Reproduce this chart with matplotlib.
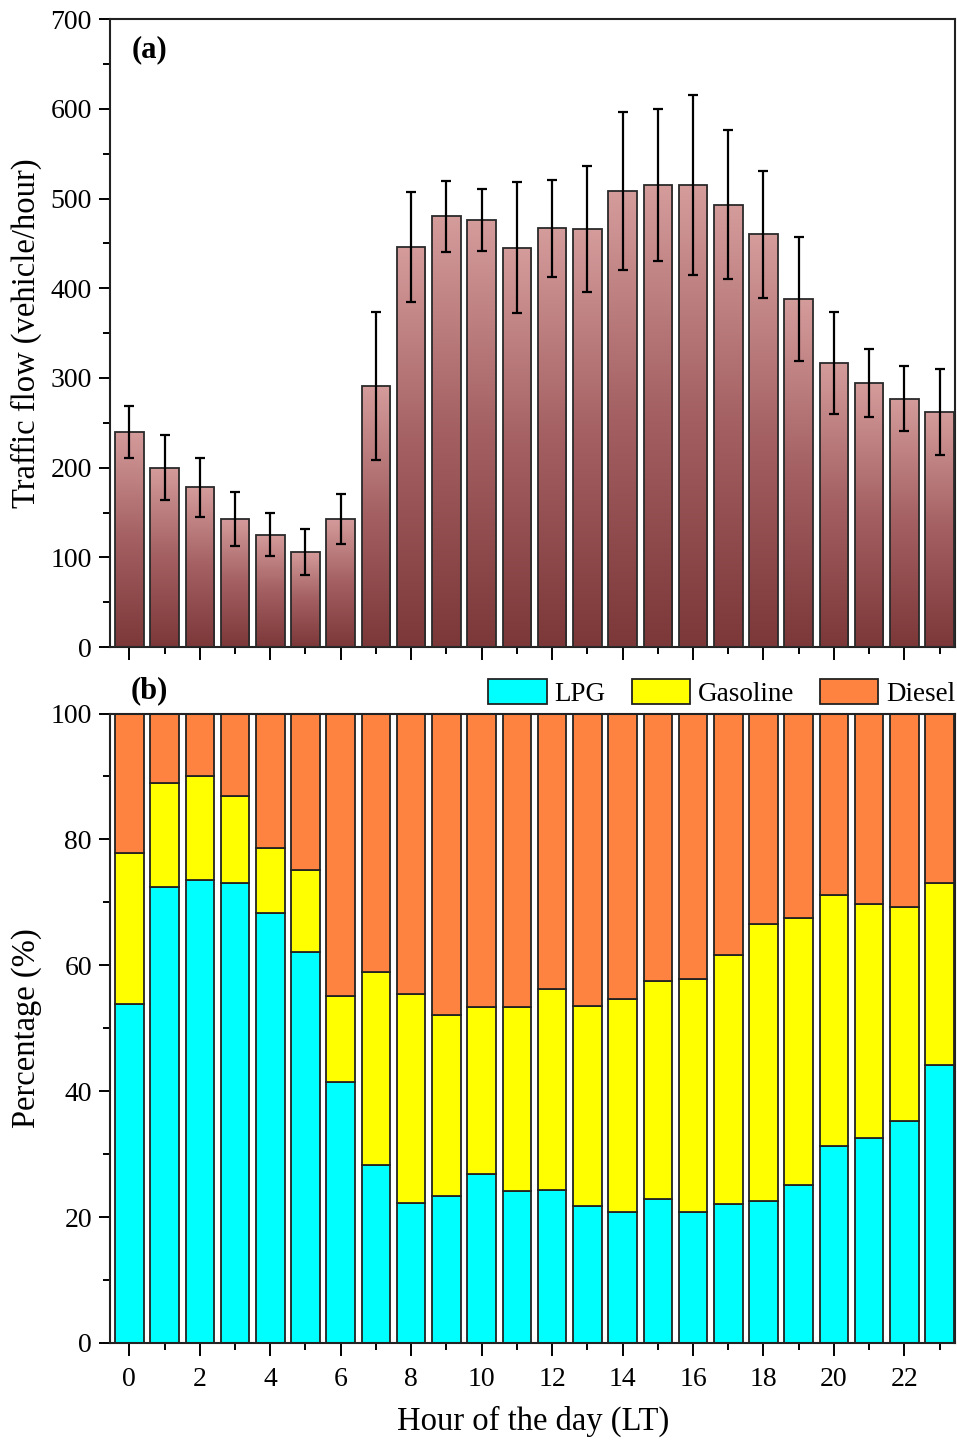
"""
Diurnal traffic flow (a) and fuel-type share (b) by hour of day.
"""

import matplotlib
matplotlib.use("Agg")
import matplotlib.pyplot as plt
import numpy as np
from matplotlib.colors import LinearSegmentedColormap
from matplotlib.ticker import MultipleLocator

plt.rcParams["font.family"] = ["Liberation Serif", "DejaVu Serif"]
plt.rcParams["mathtext.fontset"] = "stix"

# ---- data ----
hours = list(range(24))

traffic_flow = [240, 200, 178, 143, 125, 106, 143, 291, 446, 480, 476, 445,
                467, 466, 508, 515, 515, 493, 460, 388, 317, 294, 277, 262]
traffic_err = [29, 36, 33, 30, 24, 26, 28, 82, 61, 40, 35, 73,
               54, 70, 88, 85, 100, 83, 71, 69, 57, 38, 36, 48]

lpg_pct = [53.9, 72.4, 73.5, 73.1, 68.3, 62.1, 41.4, 28.2, 22.3, 23.4, 26.8, 24.1,
           24.3, 21.8, 20.8, 22.8, 20.8, 22.1, 22.5, 25.1, 31.3, 32.5, 35.2, 44.1]
# cumulative top of the gasoline segment (LPG + gasoline)
lpg_gas_top = [77.9, 88.9, 90.0, 86.9, 78.7, 75.1, 55.1, 58.9, 55.4, 52.1, 53.4, 53.4,
               56.3, 53.6, 54.6, 57.5, 57.9, 61.7, 66.6, 67.5, 71.2, 69.7, 69.2, 73.1]

fuel_labels = ["LPG", "Gasoline", "Diesel"]
fuel_colors = ["#00ffff", "#ffff00", "#ff8340"]

hours = np.array(hours)
gas_pct = np.array(lpg_gas_top) - np.array(lpg_pct)
diesel_pct = 100.0 - np.array(lpg_gas_top)

BAR_W = 0.81
XLIM = (-0.55, 23.45)
TICK_FS = 20
LABEL_FS = 23.5

fig = plt.figure(figsize=(9.57, 14.45), dpi=100)
ax_a = fig.add_axes([0.1149, 0.5522, 0.8835, 0.4346])
ax_b = fig.add_axes([0.1149, 0.0706, 0.8835, 0.4356])

# ---- (a) traffic flow, bars with a vertical gradient ----
grad_cmap = LinearSegmentedColormap.from_list("brick", ["#7c3739", "#a35f61", "#d59c9c"])
gradient = np.linspace(0, 1, 256).reshape(-1, 1)

bars = ax_a.bar(hours, traffic_flow, width=BAR_W, facecolor="none",
                edgecolor="#2a2a2a", linewidth=1.3, zorder=3)
for rect in bars:
    x0 = rect.get_x()
    h = rect.get_height()
    img = ax_a.imshow(gradient, cmap=grad_cmap, origin="lower", aspect="auto",
                      extent=[x0, x0 + rect.get_width(), 0, h], zorder=2)
    img.set_clip_path(rect)

ax_a.errorbar(hours, traffic_flow, yerr=traffic_err, fmt="none", ecolor="black",
              elinewidth=1.6, capsize=3.8, capthick=1.6, zorder=4)

ax_a.set_xlim(*XLIM)
ax_a.set_ylim(0, 700)
ax_a.set_xticks(np.arange(0, 24, 2))
ax_a.xaxis.set_minor_locator(MultipleLocator(1))
ax_a.set_xticklabels([])
ax_a.yaxis.set_major_locator(MultipleLocator(100))
ax_a.yaxis.set_minor_locator(MultipleLocator(50))
ax_a.set_ylabel("Traffic flow (vehicle/hour)", fontsize=LABEL_FS)
ax_a.yaxis.set_label_coords(-0.080, 0.5)
ax_a.text(0.026, 0.951, "(a)", transform=ax_a.transAxes, fontsize=22,
          fontweight="bold", ha="left", va="center")

# ---- (b) fuel shares, stacked ----
ax_b.bar(hours, lpg_pct, width=BAR_W, color=fuel_colors[0], edgecolor="#222222",
         linewidth=1.3, label=fuel_labels[0], zorder=2)
ax_b.bar(hours, gas_pct, bottom=lpg_pct, width=BAR_W, color=fuel_colors[1],
         edgecolor="#222222", linewidth=1.3, label=fuel_labels[1], zorder=2)
ax_b.bar(hours, diesel_pct, bottom=lpg_gas_top, width=BAR_W, color=fuel_colors[2],
         edgecolor="#222222", linewidth=1.3, label=fuel_labels[2], zorder=2)

ax_b.set_xlim(*XLIM)
ax_b.set_ylim(0, 100)
ax_b.set_xticks(np.arange(0, 24, 2))
ax_b.xaxis.set_minor_locator(MultipleLocator(1))
ax_b.yaxis.set_major_locator(MultipleLocator(20))
ax_b.yaxis.set_minor_locator(MultipleLocator(10))
ax_b.set_ylabel("Percentage (%)", fontsize=LABEL_FS)
ax_b.yaxis.set_label_coords(-0.080, 0.5)
ax_b.set_xlabel("Hour of the day (LT)", fontsize=LABEL_FS, labelpad=10)
ax_b.text(0.024, 1.037, "(b)", transform=ax_b.transAxes, fontsize=22,
          fontweight="bold", ha="left", va="center")

leg = ax_b.legend(loc="lower right", bbox_to_anchor=(1.008, 1.0), ncol=3,
                  frameon=False, fontsize=19.5, handlelength=2.15, handleheight=1.0,
                  handletextpad=0.3, columnspacing=0.95, borderaxespad=0.25,
                  borderpad=0.0)
for patch in leg.get_patches():
    patch.set_edgecolor("#222222")
    patch.set_linewidth(1.3)

for ax in (ax_a, ax_b):
    for side in ax.spines.values():
        side.set_linewidth(1.5)
        side.set_color("#222222")
    ax.tick_params(axis="both", which="major", direction="out", length=8,
                   width=1.4, labelsize=TICK_FS, pad=5)
    ax.tick_params(axis="both", which="minor", direction="out", length=5, width=1.4)
    ax.tick_params(axis="x", which="major", length=9, pad=8)

fig.savefig("out.png", dpi=100)
